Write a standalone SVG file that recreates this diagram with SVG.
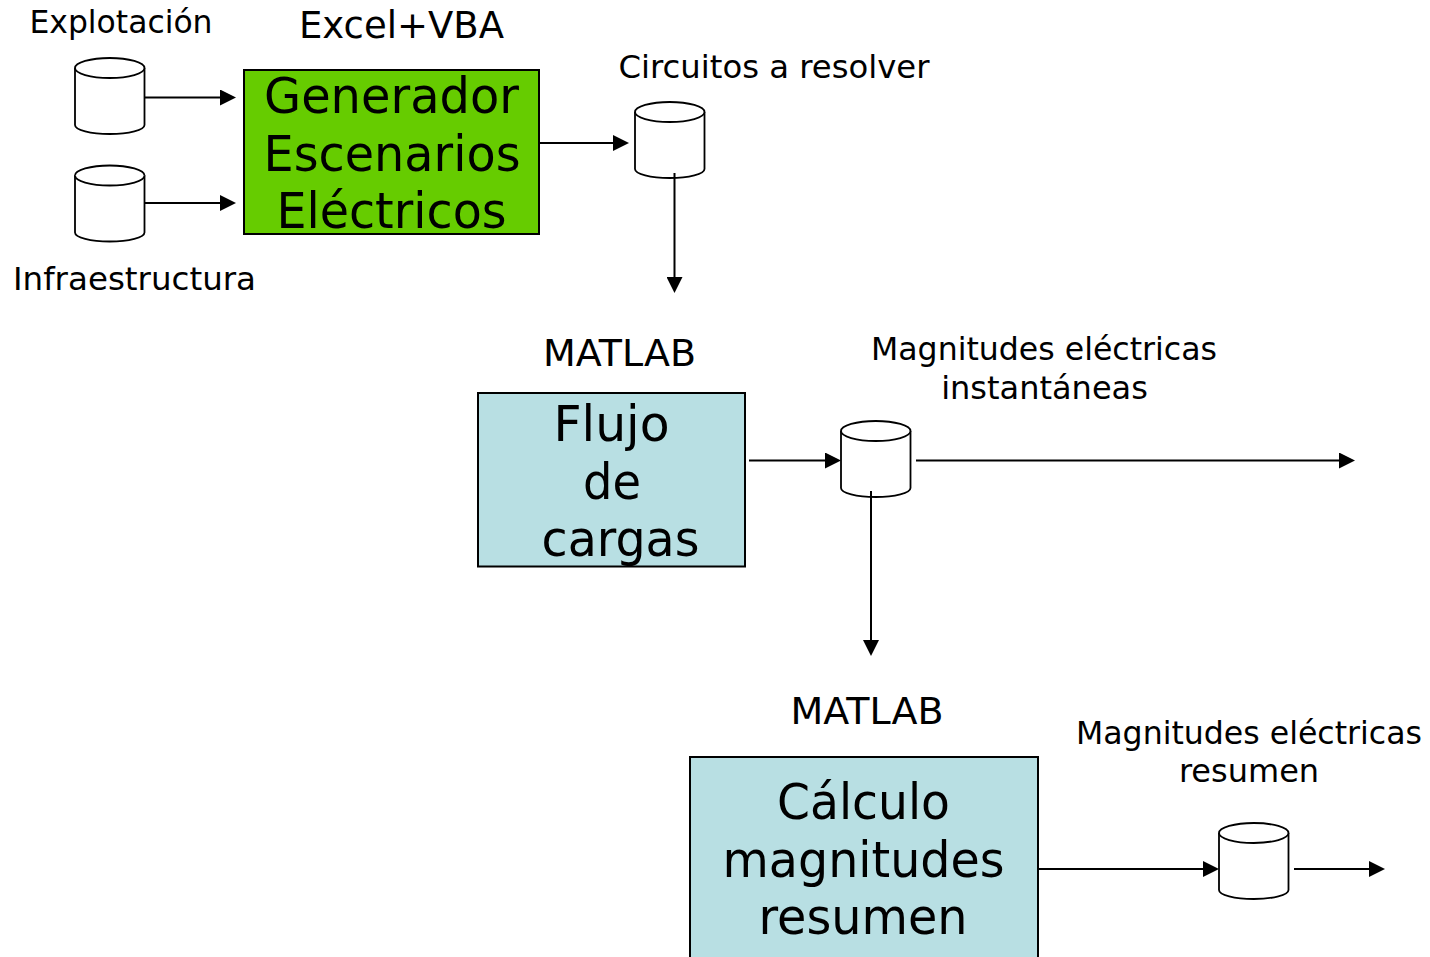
<svg xmlns="http://www.w3.org/2000/svg" width="1430" height="957" viewBox="0 0 1430 957">
<style>
text{font-family:"DejaVu Sans",Verdana,sans-serif;fill:#000;text-anchor:middle}
.s{font-size:32px}.m{font-size:37px}.l{font-size:50px}
.box{stroke:#000;stroke-width:2}
.cyl{fill:#fff;stroke:#000;stroke-width:1.8}
.c{stroke:#000;stroke-width:2;fill:none;marker-end:url(#a)}
</style>
<defs>
<marker id="a" markerUnits="userSpaceOnUse" markerWidth="16" markerHeight="16" refX="8" refY="8" orient="auto"><path d="M0 0L16 8L0 16z" fill="#000"/></marker>
<g id="cy"><path class="cyl" d="M0 10A34.750 10 0 0 1 69.500 10V67A34.750 9 0 0 1 0 67Z"/><path class="cyl" d="M0 10A34.750 10 0 0 0 69.500 10" fill="none"/></g>
</defs>
<g id="explotacion"><use href="#cy" x="75" y="58"/><text class="s" x="121" y="33" textLength="183" lengthAdjust="spacingAndGlyphs">Explotación</text></g>
<g id="infraestructura"><use href="#cy" x="75" y="165.500"/><text class="s" x="134.500" y="290" textLength="243" lengthAdjust="spacingAndGlyphs">Infraestructura</text></g>
<g id="generador"><rect class="box" x="244" y="70" width="295" height="164" fill="#66cc00"/>
<text class="m" x="401.500" y="38" textLength="205" lengthAdjust="spacingAndGlyphs">Excel+VBA</text>
<text class="l" x="391.500" y="113" textLength="255" lengthAdjust="spacingAndGlyphs">Generador</text><text class="l" x="392" y="171" textLength="257" lengthAdjust="spacingAndGlyphs">Escenarios</text><text class="l" x="391.500" y="228" textLength="230" lengthAdjust="spacingAndGlyphs">Eléctricos</text></g>
<g id="circuitos"><use href="#cy" x="635" y="102"/><text class="s" x="774" y="78" textLength="311" lengthAdjust="spacingAndGlyphs">Circuitos a resolver</text></g>
<g id="flujo"><rect class="box" x="478" y="393" width="267" height="173.500" fill="#b8dfe3"/>
<text class="m" x="619.500" y="366" textLength="153" lengthAdjust="spacingAndGlyphs">MATLAB</text>
<text class="l" x="611.500" y="441" textLength="116" lengthAdjust="spacingAndGlyphs">Flujo</text><text class="l" x="612" y="499" textLength="58" lengthAdjust="spacingAndGlyphs">de</text><text class="l" x="620.500" y="556" textLength="158" lengthAdjust="spacingAndGlyphs">cargas</text></g>
<g id="instantaneas"><use href="#cy" x="841" y="421"/><text class="s" x="1044" y="360" textLength="346" lengthAdjust="spacingAndGlyphs">Magnitudes eléctricas</text><text class="s" x="1044.500" y="399">instantáneas</text></g>
<g id="calculo"><rect class="box" x="690" y="757" width="348" height="210" fill="#b8dfe3"/>
<text class="m" x="867" y="724" textLength="153" lengthAdjust="spacingAndGlyphs">MATLAB</text>
<text class="l" x="863.500" y="819" textLength="173" lengthAdjust="spacingAndGlyphs">Cálculo</text><text class="l" x="863.500" y="877" textLength="282" lengthAdjust="spacingAndGlyphs">magnitudes</text><text class="l" x="863" y="934" textLength="209" lengthAdjust="spacingAndGlyphs">resumen</text></g>
<g id="resumen"><use href="#cy" x="1219" y="823"/><text class="s" x="1249" y="744" textLength="346" lengthAdjust="spacingAndGlyphs">Magnitudes eléctricas</text><text class="s" x="1249" y="782">resumen</text></g>
<g id="connectors">
<path class="c" d="M145 97.500H228"/><path class="c" d="M145 203H228"/><path class="c" d="M539 143H621"/><path class="c" d="M674.500 173V285"/>
<path class="c" d="M749 460.500H833"/><path class="c" d="M916 460.500H1347"/><path class="c" d="M871 491V648"/>
<path class="c" d="M1038 869H1211"/><path class="c" d="M1294 869H1377"/>
</g>
</svg>
